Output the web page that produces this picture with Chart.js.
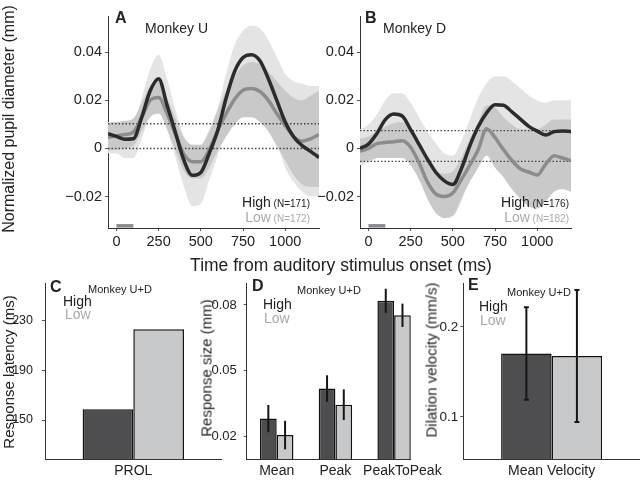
<!DOCTYPE html>
<html>
<head>
<meta charset="utf-8">
<script src="https://cdn.jsdelivr.net/npm/chart.js@4.4.1/dist/chart.umd.min.js"></script>
<style>
  body { margin: 0; background: #fff; }
  #wrap { position: relative; width: 640px; height: 481px; overflow: hidden;
          font-family: "Liberation Sans", Arial, Helvetica, sans-serif; color: #222; }
  canvas { position: absolute; }
  .t { position: absolute; white-space: nowrap; line-height: 1; }
  .b { font-weight: bold; }
  .rot { transform: translate(-50%, -50%) rotate(-90deg); }
  .gray { color: #a9a9a9; }
  .n { font-size: 10px; }
</style>
</head>
<body>
<div id="wrap">
  <canvas id="chA" width="325" height="255" style="left:0;top:0"></canvas>
  <canvas id="chB" width="266" height="255" style="left:312px;top:0"></canvas>
  <canvas id="chC" width="228" height="231" style="left:0;top:250px"></canvas>
  <canvas id="chD" width="256" height="231" style="left:200px;top:250px"></canvas>
  <canvas id="chE" width="225" height="231" style="left:415px;top:250px"></canvas>

  <div class="t b" style="left:115px;top:9.5px;font-size:16px">A</div>
  <div class="t" style="left:145px;top:21px;font-size:14px">Monkey U</div>
  <div class="t b" style="left:365px;top:9.5px;font-size:16px">B</div>
  <div class="t" style="left:383px;top:21px;font-size:14px">Monkey D</div>

  <div class="t" style="left:210px;width:100px;text-align:right;top:195px;font-size:14px">High<span class="n"> (N=171)</span></div>
  <div class="t gray" style="left:210px;width:100px;text-align:right;top:210px;font-size:14px">Low<span class="n"> (N=172)</span></div>
  <div class="t" style="left:469px;width:100px;text-align:right;top:195px;font-size:14px">High<span class="n"> (N=176)</span></div>
  <div class="t gray" style="left:469px;width:100px;text-align:right;top:210px;font-size:14px">Low<span class="n"> (N=182)</span></div>

  <div class="t rot" style="left:9px;top:119px;font-size:16px">Normalized pupil diameter (mm)</div>
  <div class="t" style="left:341px;top:257px;font-size:17.5px;transform:translateX(-50%)">Time from auditory stimulus onset (ms)</div>

  <div class="t b" style="left:50px;top:278.5px;font-size:16px">C</div>
  <div class="t" style="left:88px;top:284px;font-size:11px">Monkey U+D</div>
  <div class="t" style="left:63px;top:294px;font-size:14px">High</div>
  <div class="t gray" style="left:65px;top:307px;font-size:14px">Low</div>
  <div class="t rot" style="left:7.5px;top:372px;font-size:15px">Response latency (ms)</div>

  <div class="t b" style="left:252px;top:277.5px;font-size:16px">D</div>
  <div class="t" style="left:297px;top:285px;font-size:11px">Monkey U+D</div>
  <div class="t" style="left:263px;top:297px;font-size:14px">High</div>
  <div class="t gray" style="left:264px;top:311px;font-size:14px">Low</div>
  <div class="t rot" style="left:205.5px;top:368px;font-size:15px">Response size (mm)</div>

  <div class="t b" style="left:468px;top:276.5px;font-size:16px">E</div>
  <div class="t" style="left:507px;top:287px;font-size:11px">Monkey U+D</div>
  <div class="t" style="left:479px;top:299px;font-size:14px">High</div>
  <div class="t gray" style="left:480px;top:313px;font-size:14px">Low</div>
  <div class="t rot" style="left:431px;top:360px;font-size:15px">Dilation velocity (mm/s)</div>
</div>

<script>
// time course (ms) shared by panels A and B
const times = [-50, 0, 50, 100, 150, 200, 250, 300, 350, 400, 450, 500, 550, 600,
               650, 700, 750, 800, 850, 900, 950, 1000, 1050, 1100, 1150, 1200];
const timeTicks = [0, 250, 500, 750, 1000];
const pupilTicks = [-0.02, 0, 0.02, 0.04];
const stimOn = [0, 100];

// panel A, monkey U
const aHigh   = [0.0061, 0.005, 0.0038, 0.004, 0.013, 0.024, 0.029, 0.018, 0.0065, -0.005, -0.0112, -0.010, -0.002,
                 0.0075, 0.021, 0.032, 0.0378, 0.039, 0.0365, 0.029, 0.020, 0.011, 0.0048, 0.0012, -0.0012, -0.0038];
const aLow    = [0.0047, 0.0052, 0.0058, 0.0068, 0.013, 0.020, 0.0212, 0.0145, 0.0058, -0.0025, -0.0055, -0.0055, -0.0005,
                 0.0075, 0.0145, 0.0205, 0.0242, 0.0249, 0.0237, 0.020, 0.0145, 0.0095, 0.005, 0.003, 0.004, 0.0058];
const aHighUp = [0.011, 0.011, 0.010, 0.010, 0.021, 0.033, 0.039, 0.029, 0.016, 0.005, -0.001, 0.001, 0.008,
                 0.017, 0.031, 0.043, 0.049, 0.051, 0.050, 0.045, 0.038, 0.031, 0.028, 0.027, 0.026, 0.026];
const aHighLo = [-0.002, -0.002, -0.004, -0.004, 0.004, 0.014, 0.019, 0.008, -0.004, -0.016, -0.024, -0.023, -0.013,
                 -0.003, 0.010, 0.020, 0.025, 0.027, 0.023, 0.013, 0.003, -0.008, -0.014, -0.018, -0.020, -0.020];
const aLowUp  = [0.0105, 0.011, 0.0115, 0.0125, 0.019, 0.026, 0.028, 0.021, 0.0125, 0.0045, 0.0015, 0.0015, 0.007,
                 0.016, 0.024, 0.030, 0.0345, 0.036, 0.035, 0.032, 0.028, 0.024, 0.021, 0.020, 0.022, 0.024];
const aLowLo  = [-0.001, -0.0005, 0.0, 0.001, 0.007, 0.013, 0.0145, 0.008, -0.001, -0.0095, -0.0125, -0.0125, -0.008,
                 -0.001, 0.005, 0.010, 0.013, 0.013, 0.011, 0.007, 0.001, -0.005, -0.011, -0.015, -0.016, -0.016];
const aDotted = [0.0103, 0];

// panel B, monkey D
const bHigh   = [0.0, 0.0018, 0.0062, 0.012, 0.0143, 0.0135, 0.0078, 0.0017, -0.0045, -0.010, -0.0135, -0.015, -0.0085,
                 0.001, 0.009, 0.0148, 0.0182, 0.018, 0.0152, 0.0122, 0.0092, 0.0072, 0.0056, 0.007, 0.0073, 0.007];
const bLow    = [-0.0012, 0.0, 0.002, 0.0025, 0.0028, 0.0032, 0.0005, -0.006, -0.014, -0.019, -0.020, -0.0185, -0.013,
                 -0.007, -0.0005, 0.0082, 0.0045, -0.0005, -0.005, -0.0085, -0.0098, -0.011, -0.0065, -0.003, -0.004, -0.005];
const bHighUp = [0.008, 0.010, 0.014, 0.020, 0.023, 0.023, 0.019, 0.013, 0.007, 0.002, -0.002, -0.003, 0.003,
                 0.012, 0.021, 0.027, 0.030, 0.030, 0.028, 0.025, 0.022, 0.020, 0.019, 0.020, 0.020, 0.020];
const bHighLo = [-0.007, -0.006, -0.004, 0.0, 0.004, 0.004, 0.0, -0.007, -0.014, -0.021, -0.026, -0.028, -0.022,
                 -0.012, -0.003, 0.003, 0.006, 0.006, 0.004, 0.0, -0.004, -0.006, -0.007, -0.006, -0.006, -0.006];
const bLowUp  = [0.004, 0.005, 0.007, 0.009, 0.0105, 0.011, 0.0085, 0.003, -0.004, -0.009, -0.0105, -0.0095, -0.004,
                 0.004, 0.011, 0.018, 0.017, 0.013, 0.010, 0.008, 0.008, 0.008, 0.010, 0.012, 0.012, 0.012];
const bLowLo  = [-0.006, -0.005, -0.004, -0.004, -0.004, -0.004, -0.007, -0.013, -0.021, -0.027, -0.029, -0.028, -0.021,
                 -0.014, -0.008, -0.003, -0.008, -0.012, -0.017, -0.021, -0.024, -0.025, -0.022, -0.018, -0.017, -0.018];
const bDotted = [0.0074, -0.0054];

// panel C
const latCats = ['PROL'];
const latHigh = [158.6];
const latLow = [223.1];
const latTicks = [150, 190, 230];

// panel D
const sizeCats = ['Mean', 'Peak', 'PeakToPeak'];
const sizeHigh = [0.0283, 0.042, 0.0819];
const sizeHighErr = [0.0062, 0.006, 0.0055];
const sizeLow = [0.0208, 0.0346, 0.0753];
const sizeLowErr = [0.0065, 0.007, 0.0053];
const sizeTicks = [0.02, 0.05, 0.08];

// panel E
const velCats = ['Mean Velocity'];
const velHigh = [0.1704];
const velHighErr = [0.0515];
const velLow = [0.1678];
const velLowErr = [0.0735];
const velTicks = [0.1, 0.2];

const tMin = -50, tMax = 1200;
const yMin = -0.0331, yMax = 0.0551;
const stimLevel = -0.0322;
const highFill = '#4e4e50';
const lowFill = '#c7c8ca';

Chart.defaults.font.family = '"Liberation Sans", Arial, Helvetica, sans-serif';
Chart.defaults.color = '#222';

function pts(xs, ys) {
  return xs.map((x, i) => ({ x: x, y: ys[i] }));
}

function fmt(v) {
  if (v === 0) return '0';
  return v < 0 ? '\u2212' + Math.abs(v) : String(v);
}

const axisGrid = { drawOnChartArea: false, tickLength: 3, color: '#555' };
const axisBorder = { color: '#333', width: 1 };
const none = 'rgba(0,0,0,0)';

function timeChart(id, yWidth, padRight, s) {
  const datasets = [
    { data: pts(times, s.high), borderColor: '#2b2b2b', borderWidth: 3.5, order: 1 },
    { data: pts(times, s.low), borderColor: '#8c8c8c', borderWidth: 3.5, order: 2 },
  ];
  s.dotted.forEach((v) => {
    datasets.push({ data: [{ x: tMin, y: v }, { x: tMax, y: v }], borderColor: '#444',
                    borderWidth: 1.4, borderDash: [1.5, 2], order: 3 });
  });
  datasets.push({ data: stimOn.map((t) => ({ x: t, y: stimLevel })), borderColor: '#88888d',
                  borderWidth: 3.5, borderCapStyle: 'butt', order: 3 });
  datasets.push({ data: pts(times, s.lowUp), fill: '+1', backgroundColor: '#c9c9c9', borderColor: none, borderWidth: 0, order: 5 });
  datasets.push({ data: pts(times, s.lowLo), borderColor: none, borderWidth: 0, order: 5 });
  datasets.push({ data: pts(times, s.highUp), fill: '+1', backgroundColor: '#e4e4e4', borderColor: none, borderWidth: 0, order: 6 });
  datasets.push({ data: pts(times, s.highLo), borderColor: none, borderWidth: 0, order: 6 });

  return new Chart(document.getElementById(id), {
    type: 'line',
    data: { datasets: datasets },
    options: {
      responsive: false, animation: false, devicePixelRatio: 1,
      layout: { padding: { left: 0, top: 16, right: padRight, bottom: 0 } },
      plugins: { legend: { display: false }, tooltip: { enabled: false } },
      elements: { point: { radius: 0 }, line: { cubicInterpolationMode: 'monotone', fill: false } },
      scales: {
        x: {
          type: 'linear', min: tMin, max: tMax,
          afterFit: (sc) => { sc.height = 27; },
          afterBuildTicks: (sc) => { sc.ticks = timeTicks.map((v) => ({ value: v })); },
          grid: axisGrid, border: axisBorder,
          ticks: { font: { size: 14.5 }, padding: 2, maxRotation: 0, callback: (v) => String(v) }
        },
        y: {
          min: yMin, max: yMax,
          afterFit: (sc) => { sc.width = yWidth; },
          afterBuildTicks: (sc) => { sc.ticks = pupilTicks.map((v) => ({ value: v })); },
          grid: axisGrid, border: axisBorder,
          ticks: { font: { size: 14.5 }, padding: 3, callback: fmt }
        }
      }
    }
  });
}

timeChart('chA', 108, 6, { high: aHigh, low: aLow, highUp: aHighUp, highLo: aHighLo,
                           lowUp: aLowUp, lowLo: aLowLo, dotted: aDotted });
timeChart('chB', 48, 7, { high: bHigh, low: bLow, highUp: bHighUp, highLo: bHighLo,
                          lowUp: bLowUp, lowLo: bLowLo, dotted: bDotted });

// error bars drawn from each bar's own value and the y scale
const errorBars = {
  id: 'errorBars',
  afterDatasetsDraw(chart, args, opts) {
    const ctx = chart.ctx;
    const ys = chart.scales.y;
    chart.data.datasets.forEach((ds, i) => {
      if (!ds.errors) return;
      chart.getDatasetMeta(i).data.forEach((bar, j) => {
        const d = ds.data[j];
        const v = typeof d === 'object' ? d.y : d;
        const top = ys.getPixelForValue(v + ds.errors[j]);
        const bot = ys.getPixelForValue(v - ds.errors[j]);
        ctx.save();
        ctx.strokeStyle = '#151515';
        ctx.lineWidth = opts.lineWidth;
        ctx.beginPath();
        ctx.moveTo(bar.x, top);
        ctx.lineTo(bar.x, bot);
        if (opts.cap) {
          ctx.moveTo(bar.x - opts.cap, top); ctx.lineTo(bar.x + opts.cap, top);
          ctx.moveTo(bar.x - opts.cap, bot); ctx.lineTo(bar.x + opts.cap, bot);
        }
        ctx.stroke();
        ctx.restore();
      });
    });
  }
};

const catTicks = { font: { size: 14 }, padding: 4, maxRotation: 0, autoSkip: false };

function barOptions(o) {
  return {
    responsive: false, animation: false, devicePixelRatio: 1,
    layout: { padding: { left: 0, top: 33, right: o.padRight, bottom: 0 } },
    plugins: { legend: { display: false }, tooltip: { enabled: false }, errorBars: { lineWidth: 2, cap: o.cap } },
    datasets: { bar: { categoryPercentage: o.catPct, barPercentage: 1, borderColor: '#111', borderWidth: 1.5 } },
    scales: {
      x: Object.assign({
        grid: { display: false, drawTicks: false, tickLength: 0 }, border: axisBorder,
        afterFit: (sc) => { sc.height = 22; },
        ticks: catTicks
      }, o.x || {}),
      y: {
        min: o.min, max: o.max,
        afterFit: (sc) => { sc.width = o.yWidth; },
        afterBuildTicks: (sc) => { sc.ticks = o.ticks.map((v) => ({ value: v })); },
        grid: axisGrid, border: axisBorder,
        ticks: { font: { size: o.tickSize }, padding: o.tickPad, callback: fmt }
      }
    }
  };
}

new Chart(document.getElementById('chC'), {
  type: 'bar',
  data: { labels: latCats, datasets: [
    { data: latHigh, backgroundColor: highFill },
    { data: latLow, backgroundColor: lowFill }
  ] },
  options: barOptions({ padRight: 6.4, catPct: 0.574, min: 118.6, max: 260.4, ticks: latTicks,
                        yWidth: 45, tickSize: 12.5, tickPad: 9, cap: 0 })
});

new Chart(document.getElementById('chD'), {
  type: 'bar',
  data: { datasets: [
    { data: sizeCats.map((c, i) => ({ x: i, y: sizeHigh[i] })), errors: sizeHighErr, backgroundColor: highFill },
    { data: sizeCats.map((c, i) => ({ x: i, y: sizeLow[i] })), errors: sizeLowErr, backgroundColor: lowFill }
  ] },
  options: barOptions({ padRight: 45.2, catPct: 0.57, min: 0.0099, max: 0.09, ticks: sizeTicks,
                        yWidth: 46.7, tickSize: 13, tickPad: 7, cap: 0,
                        x: { type: 'linear', min: -0.511, max: 2.284, offset: false,
                             // the long last label sits a little right of its bar pair, as in the figure
                             afterBuildTicks: (sc) => { sc.ticks = [0, 1, 2.14].map((v) => ({ value: v })); },
                             ticks: Object.assign({}, catTicks, { callback: (v, i) => sizeCats[i] }) } }),
  plugins: [errorBars]
});

new Chart(document.getElementById('chE'), {
  type: 'bar',
  data: { labels: velCats, datasets: [
    { data: velHigh, errors: velHighErr, backgroundColor: highFill },
    { data: velLow, errors: velLowErr, backgroundColor: lowFill }
  ] },
  options: barOptions({ padRight: 0, catPct: 0.572, min: 0.053, max: 0.249, ticks: velTicks,
                        yWidth: 48.3, tickSize: 13.5, tickPad: 2, cap: 2.5 }),
  plugins: [errorBars]
});
</script>
</body>
</html>
